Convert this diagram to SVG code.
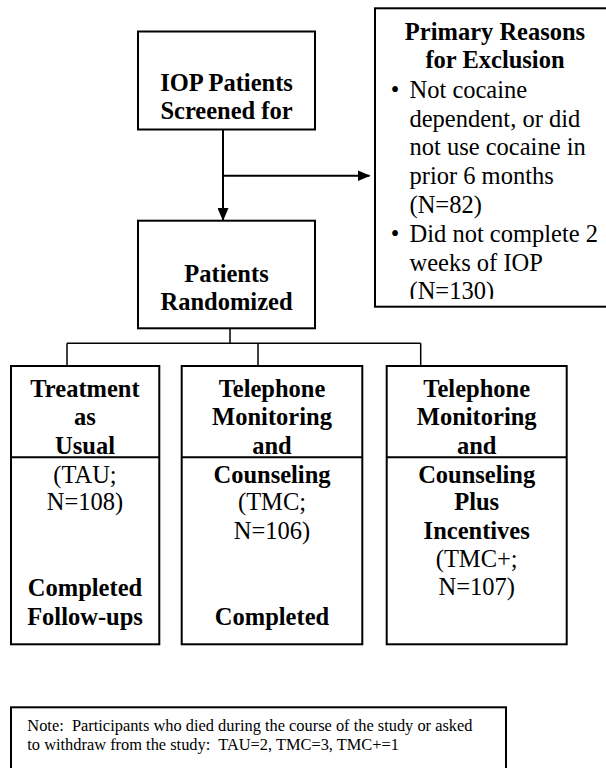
<svg xmlns="http://www.w3.org/2000/svg" width="606" height="768" viewBox="0 0 606 768">
<style>
  text { font-family: "Liberation Serif", "Times New Roman", serif; font-size: 24.5px; fill: #000; }
  .b { font-weight: bold; }
  .c { text-anchor: middle; }
  .box { fill: #fff; stroke: #000; stroke-width: 2; }
  .div { stroke: #000; stroke-width: 2; }
  .arr { fill: none; stroke: #000; stroke-width: 2; }
  .con { fill: none; stroke: #000; stroke-width: 1.5; }
  .note { font-size: 16.4px; }
</style>
<defs>
  <marker id="ah" markerWidth="13" markerHeight="11" refX="12" refY="5.5" orient="auto" markerUnits="userSpaceOnUse">
    <path d="M0,0 L13,5.5 L0,11 Z" fill="#000"/>
  </marker>
  <clipPath id="exclip"><rect x="376" y="9" width="240" height="290"/></clipPath>
</defs>
<rect x="0" y="0" width="606" height="768" fill="#fff"/>

<g id="connectors">
  <path class="arr" d="M223,130 V220" marker-end="url(#ah)"/>
  <path class="arr" d="M223,175.7 H369.5" marker-end="url(#ah)"/>
  <path class="con" d="M230,328.3 V343.3 M67,343.3 H420.7 M67,343.3 V366 M258,343.3 V366 M420.7,343.3 V366"/>
</g>

<g id="screened">
  <rect class="box" x="138" y="31.5" width="177" height="98"/>
  <text class="b c" x="226.5" y="91">IOP Patients</text>
  <text class="b c" x="226.5" y="119.3">Screened for</text>
</g>

<g id="exclusion">
  <rect class="box" x="375" y="8.3" width="250" height="298.4"/>
  <g clip-path="url(#exclip)">
    <text class="b c" x="495" y="39.5">Primary Reasons</text>
    <text class="b c" x="495" y="68.3">for Exclusion</text>
    <text class="c" x="395" y="98.3">•</text>
    <text x="409.5" y="98.3">Not cocaine</text>
    <text x="409.5" y="126.7">dependent, or did</text>
    <text x="409.5" y="155">not use cocaine in</text>
    <text x="409.5" y="183.5">prior 6 months</text>
    <text x="409.5" y="212.5">(N=82)</text>
    <text class="c" x="395" y="242">•</text>
    <text x="409.5" y="242">Did not complete 2</text>
    <text x="409.5" y="270.5">weeks of IOP</text>
    <text x="409.5" y="299">(N=130)</text>
  </g>
</g>

<g id="randomized">
  <rect class="box" x="138" y="220.7" width="177" height="107.6"/>
  <text class="b c" x="226.5" y="281.7">Patients</text>
  <text class="b c" x="226.5" y="309.5">Randomized</text>
</g>

<g id="tau">
  <rect class="box" x="11" y="366" width="148.3" height="278.3"/>
  <line class="div" x1="11" y1="457.3" x2="159.3" y2="457.3"/>
  <text class="b c" x="85" y="397">Treatment</text>
  <text class="b c" x="85" y="425.3">as</text>
  <text class="b c" x="85" y="453.6">Usual</text>
  <text class="c" x="85" y="482.5">(TAU;</text>
  <text class="c" x="85" y="510.3">N=108)</text>
  <text class="b c" x="85" y="596.3">Completed</text>
  <text class="b c" x="85" y="624.5">Follow-ups</text>
</g>

<g id="tmc">
  <rect class="box" x="181.7" y="366" width="180.6" height="278.3"/>
  <line class="div" x1="181.7" y1="457.3" x2="362.3" y2="457.3"/>
  <text class="b c" x="272" y="397">Telephone</text>
  <text class="b c" x="272" y="425.3">Monitoring</text>
  <text class="b c" x="272" y="453.6">and</text>
  <text class="b c" x="272" y="482.5">Counseling</text>
  <text class="c" x="272" y="510.3">(TMC;</text>
  <text class="c" x="272" y="538.6">N=106)</text>
  <text class="b c" x="272" y="624.5">Completed</text>
</g>

<g id="tmcplus">
  <rect class="box" x="386.7" y="366" width="180" height="278.3"/>
  <line class="div" x1="386.7" y1="457.3" x2="566.7" y2="457.3"/>
  <text class="b c" x="476.7" y="397">Telephone</text>
  <text class="b c" x="476.7" y="425.3">Monitoring</text>
  <text class="b c" x="476.7" y="453.6">and</text>
  <text class="b c" x="476.7" y="482.5">Counseling</text>
  <text class="b c" x="476.7" y="510.3">Plus</text>
  <text class="b c" x="476.7" y="538.6">Incentives</text>
  <text class="c" x="476.7" y="567">(TMC+;</text>
  <text class="c" x="476.7" y="595.3">N=107)</text>
</g>

<g id="note">
  <rect class="box" x="11" y="707.3" width="495" height="80"/>
  <text class="note" x="27.3" y="731" xml:space="preserve">Note:  Participants who died during the course of the study or asked</text>
  <text class="note" x="27.3" y="749.5" xml:space="preserve">to withdraw from the study:  TAU=2, TMC=3, TMC+=1</text>
</g>
</svg>
